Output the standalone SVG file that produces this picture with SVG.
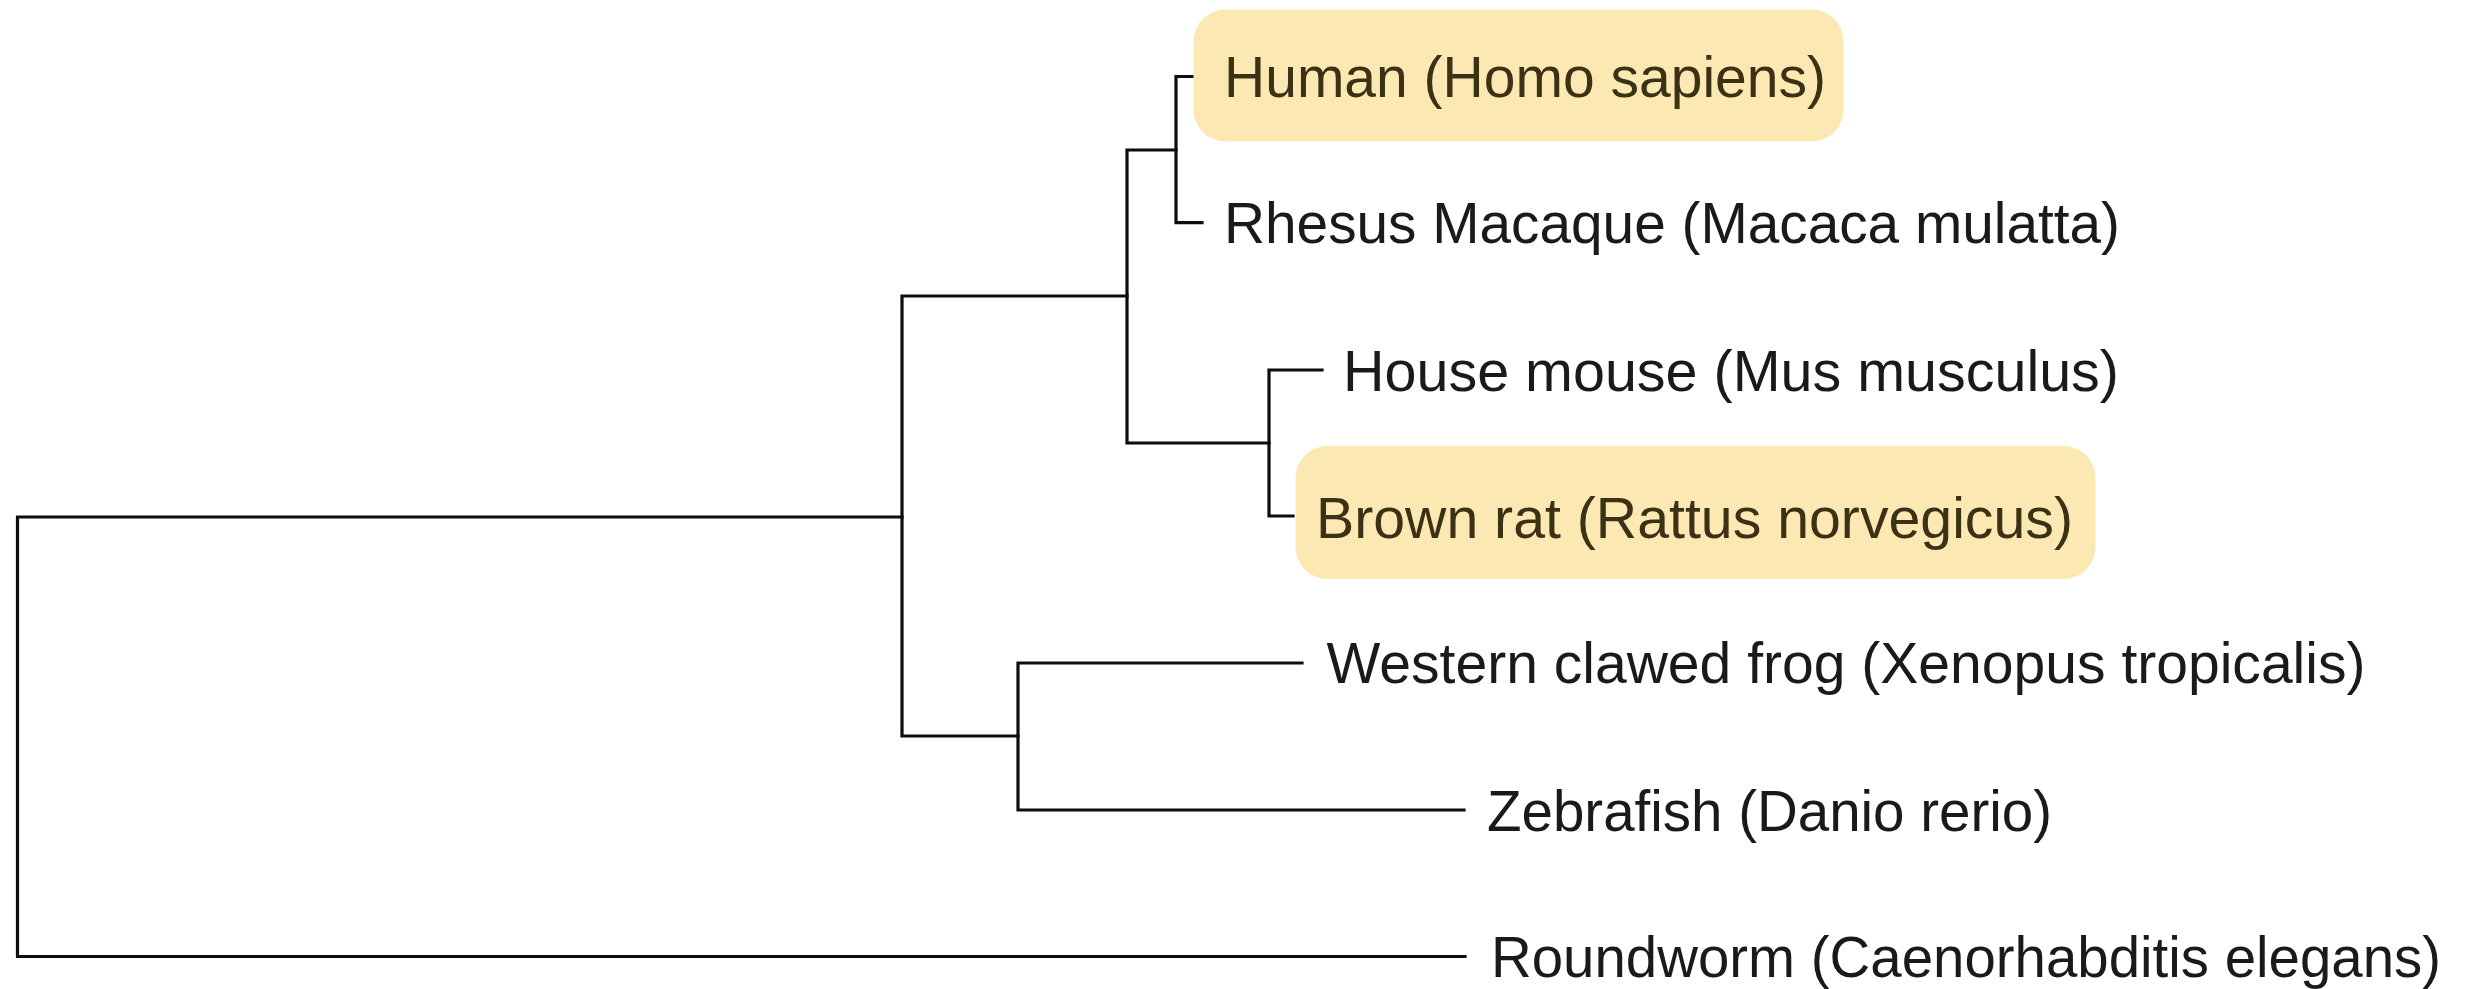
<svg xmlns="http://www.w3.org/2000/svg" width="2466" height="989" viewBox="0 0 2466 989">
  <style>
    .branch { fill: none; stroke: #0d0d0d; stroke-width: 3.2; stroke-linecap: square; stroke-linejoin: miter; }
    .label { font-family: "Liberation Sans", Arial, sans-serif; font-size: 57px; fill: #1a1a1a; }
    .hl { fill: #fce8b2; }
    .hl-text { fill: #3b3216; }
  </style>
  <rect width="2466" height="989" fill="#ffffff"/>

  <!-- Tree branches (rectangular cladogram) -->
  <g id="connectors">
    <!-- root: vertebrates vs roundworm -->
    <path class="branch" d="M902 517 H17.5 V956.5 H1465"/>
    <!-- vertebrates: mammals vs frog+fish -->
    <path class="branch" d="M1127 296 H902 V736 H1018"/>
    <!-- frog + zebrafish -->
    <path class="branch" d="M1302 663 H1018 V810 H1464"/>
    <!-- mammals: primates vs rodents -->
    <path class="branch" d="M1176 150 H1127 V443 H1269"/>
    <!-- primates -->
    <path class="branch" d="M1202 76.5 H1176 V222.7 H1202"/>
    <!-- rodents -->
    <path class="branch" d="M1322 370 H1269 V516 H1293"/>
  </g>

  <g id="human">
    <rect class="hl" x="1193.5" y="9.5" width="650" height="132" rx="32" ry="32"/>
    <text class="label hl-text" x="1224" y="97.3" textLength="602" lengthAdjust="spacingAndGlyphs">Human (Homo sapiens)</text>
  </g>
  <g id="rhesus">
    <text class="label" x="1224" y="243.2" textLength="896" lengthAdjust="spacingAndGlyphs">Rhesus Macaque (Macaca mulatta)</text>
  </g>
  <g id="mouse">
    <text class="label" x="1343" y="391" textLength="776" lengthAdjust="spacingAndGlyphs">House mouse (Mus musculus)</text>
  </g>
  <g id="rat">
    <rect class="hl" x="1295.5" y="446" width="800" height="133" rx="32" ry="32"/>
    <text class="label hl-text" x="1316" y="538.3" textLength="757" lengthAdjust="spacingAndGlyphs">Brown rat (Rattus norvegicus)</text>
  </g>
  <g id="frog">
    <text class="label" x="1326.5" y="683.3" textLength="1039" lengthAdjust="spacingAndGlyphs">Western clawed frog (Xenopus tropicalis)</text>
  </g>
  <g id="zebrafish">
    <text class="label" x="1487" y="830.5" textLength="565" lengthAdjust="spacingAndGlyphs">Zebrafish (Danio rerio)</text>
  </g>
  <g id="roundworm">
    <text class="label" x="1491" y="977.3" textLength="950" lengthAdjust="spacingAndGlyphs">Roundworm (Caenorhabditis elegans)</text>
  </g>
</svg>
